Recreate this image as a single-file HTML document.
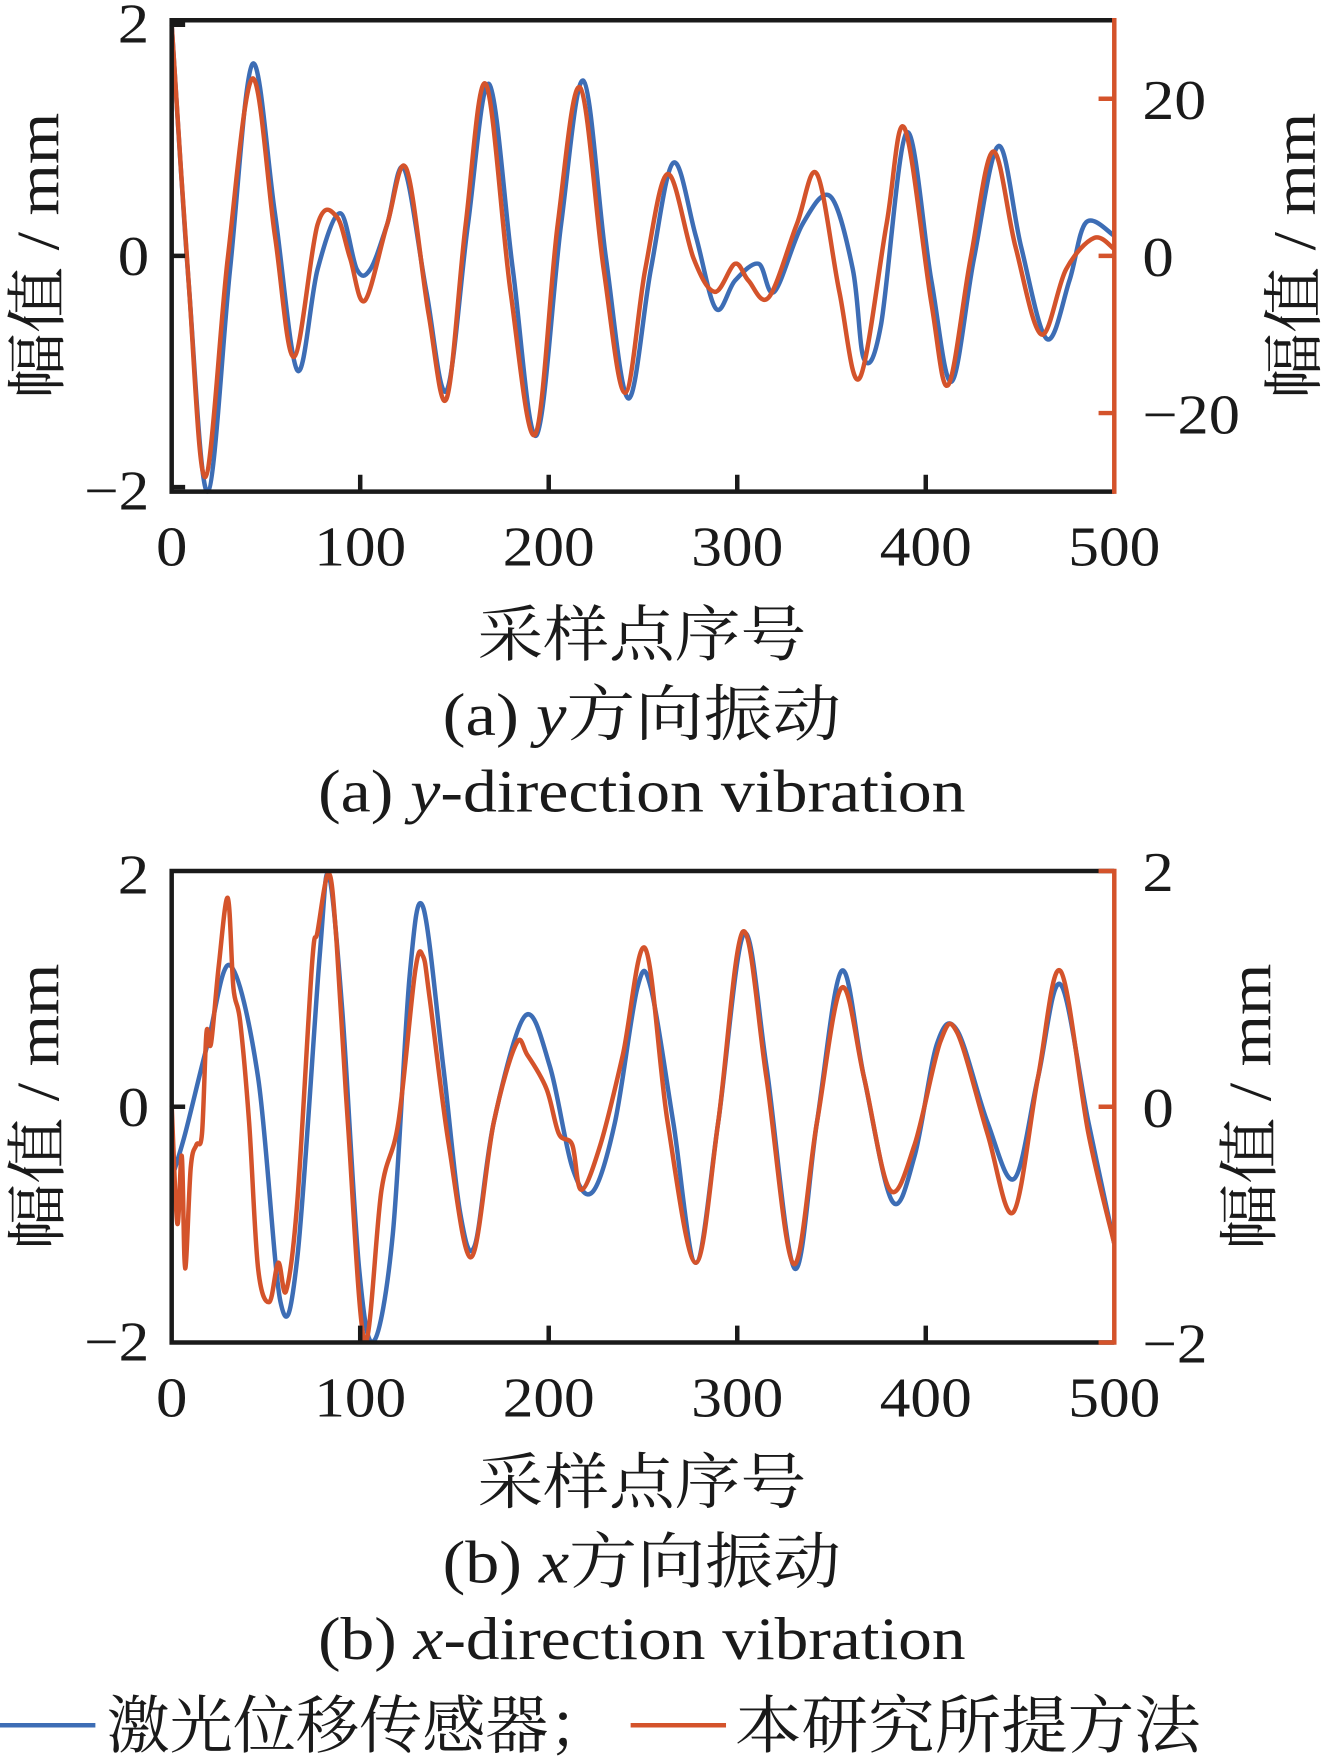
<!DOCTYPE html>
<html><head><meta charset="utf-8"><style>
html,body{margin:0;padding:0;background:#fff}
svg{display:block}
text{font-family:"Liberation Serif","Noto Serif CJK SC",serif;fill:#1a1a1a}
</style></head><body>
<svg id="s" width="1323" height="1760" viewBox="0 0 1179 1568" preserveAspectRatio="none" xmlns="http://www.w3.org/2000/svg">
<g id="curves"></g>
<g stroke="#1a1a1a" stroke-width="4" fill="none">
<path d="M153,16 V438 H993 M153,18 H993"/>
<path d="M153,22 h12 M153,228 h12 M153,434 h12"/>
<path d="M321,438 v-15 M489,438 v-15 M657,438 v-15 M825,438 v-15"/>
</g>
<g stroke="#d4532b" stroke-width="4" fill="none">
<path d="M993,16 V440 M993,88 h-14 M993,228 h-14 M993,368 h-14"/>
</g>
<g stroke="#1a1a1a" stroke-width="4" fill="none">
<path d="M153,774 V1196 H993 M153,776 H993"/>
<path d="M153,986 h12"/>
<path d="M321,1196 v-15 M489,1196 v-15 M657,1196 v-15 M825,1196 v-15"/>
</g>
<g stroke="#d4532b" stroke-width="4" fill="none">
<path d="M993,774 V1198 M993,776 h-14 M993,986 h-14 M993,1196 h-14"/>
</g>
<g font-size="50" text-anchor="end" lengthAdjust="spacingAndGlyphs">
<text x="133" y="38" textLength="28" lengthAdjust="spacingAndGlyphs">2</text>
<text x="133" y="245" textLength="28" lengthAdjust="spacingAndGlyphs">0</text>
<text x="133" y="454" textLength="58" lengthAdjust="spacingAndGlyphs">−2</text>
<text x="133" y="796" textLength="28" lengthAdjust="spacingAndGlyphs">2</text>
<text x="133" y="1003" textLength="28" lengthAdjust="spacingAndGlyphs">0</text>
<text x="133" y="1212" textLength="58" lengthAdjust="spacingAndGlyphs">−2</text>
</g>
<g font-size="50" text-anchor="start">
<text x="1018" y="106" fill="#d4532b" textLength="57" lengthAdjust="spacingAndGlyphs">20</text>
<text x="1018" y="246" fill="#d4532b" textLength="28" lengthAdjust="spacingAndGlyphs">0</text>
<text x="1018" y="386" fill="#d4532b" textLength="87" lengthAdjust="spacingAndGlyphs">−20</text>
<text x="1018" y="794" fill="#d4532b" textLength="28" lengthAdjust="spacingAndGlyphs">2</text>
<text x="1018" y="1004" fill="#d4532b" textLength="28" lengthAdjust="spacingAndGlyphs">0</text>
<text x="1018" y="1214" fill="#d4532b" textLength="58" lengthAdjust="spacingAndGlyphs">−2</text>
</g>
<g font-size="50" text-anchor="middle">
<text x="153" y="504" textLength="28" lengthAdjust="spacingAndGlyphs">0</text>
<text x="321" y="504" textLength="82" lengthAdjust="spacingAndGlyphs">100</text>
<text x="489" y="504" textLength="82" lengthAdjust="spacingAndGlyphs">200</text>
<text x="657" y="504" textLength="82" lengthAdjust="spacingAndGlyphs">300</text>
<text x="825" y="504" textLength="82" lengthAdjust="spacingAndGlyphs">400</text>
<text x="993" y="504" textLength="82" lengthAdjust="spacingAndGlyphs">500</text>
<text x="153" y="1262" textLength="28" lengthAdjust="spacingAndGlyphs">0</text>
<text x="321" y="1262" textLength="82" lengthAdjust="spacingAndGlyphs">100</text>
<text x="489" y="1262" textLength="82" lengthAdjust="spacingAndGlyphs">200</text>
<text x="657" y="1262" textLength="82" lengthAdjust="spacingAndGlyphs">300</text>
<text x="825" y="1262" textLength="82" lengthAdjust="spacingAndGlyphs">400</text>
<text x="993" y="1262" textLength="82" lengthAdjust="spacingAndGlyphs">500</text>
</g>
<g font-size="54" text-anchor="middle">
<text transform="translate(52,228) rotate(-90)" textLength="255" lengthAdjust="spacingAndGlyphs">幅值 / mm</text>
<text transform="translate(1172,228) rotate(-90)" textLength="255" lengthAdjust="spacingAndGlyphs">幅值 / mm</text>
<text transform="translate(52,986) rotate(-90)" textLength="255" lengthAdjust="spacingAndGlyphs">幅值 / mm</text>
<text transform="translate(1132,986) rotate(-90)" textLength="255" lengthAdjust="spacingAndGlyphs">幅值 / mm</text>
<text x="572" y="584" textLength="293" lengthAdjust="spacingAndGlyphs">采样点序号</text>
<text x="572" y="655" textLength="355" lengthAdjust="spacingAndGlyphs">(a)  <tspan font-style="italic">y</tspan>方向振动</text>
<text x="572" y="723" textLength="577" lengthAdjust="spacingAndGlyphs">(a)  <tspan font-style="italic">y</tspan>-direction vibration</text>
<text x="572" y="1339" textLength="293" lengthAdjust="spacingAndGlyphs">采样点序号</text>
<text x="572" y="1410" textLength="355" lengthAdjust="spacingAndGlyphs">(b)  <tspan font-style="italic">x</tspan>方向振动</text>
<text x="572" y="1478" textLength="577" lengthAdjust="spacingAndGlyphs">(b)  <tspan font-style="italic">x</tspan>-direction vibration</text>
</g>
<line x1="0" y1="1537" x2="85" y2="1537" stroke="#3d6db5" stroke-width="4"/>
<text x="95" y="1557" font-size="56" textLength="450" lengthAdjust="spacingAndGlyphs">激光位移传感器；</text>
<line x1="562" y1="1537" x2="647" y2="1537" stroke="#d4532b" stroke-width="4"/>
<text x="655" y="1557" font-size="56" textLength="415" lengthAdjust="spacingAndGlyphs">本研究所提方法</text>
</svg>
<script>
function cr(p){let d="M"+p[0][0]+","+p[0][1];for(let i=0;i<p.length-1;i++){const a=p[i-1]||p[i],b=p[i],c=p[i+1],e=p[i+2]||c;
d+=" C"+(b[0]+(c[0]-a[0])/6).toFixed(1)+","+(b[1]+(c[1]-a[1])/6).toFixed(1)+" "+(c[0]-(e[0]-b[0])/6).toFixed(1)+","+(c[1]-(e[1]-b[1])/6).toFixed(1)+" "+c[0]+","+c[1];}return d;}
const A_b=[[153,22],[168,250],[185,438],[205,240],[225,57],[245,190],[265,330],[283,240],[303,190],[318,240],[330,240],[345,200],[360,150],[380,260],[398,348],[417,200],[436,75],[457,240],[478,388],[500,200],[520,72],[540,230],[560,355],[580,240],[600,145],[620,210],[638,275],[655,250],[676,235],[690,260],[715,200],[740,175],[760,240],[770,320],[785,290],[808,118],[830,250],[848,340],[868,230],[890,130],[910,220],[933,302],[953,250],[968,198],[993,210]];
const A_r=[[153,22],[168,250],[183,425],[203,230],[225,70],[245,210],[262,318],[283,200],[300,193],[312,230],[325,268],[345,200],[362,150],[382,280],[398,355],[415,200],[433,75],[455,260],[477,387],[497,200],[517,78],[538,240],[557,350],[575,240],[595,155],[618,230],[637,260],[655,235],[667,250],[685,265],[710,200],[728,155],[748,260],[766,337],[790,200],[806,114],[830,270],[845,343],[865,230],[885,135],[905,220],[928,298],[950,240],[975,212],[993,222]];
const B_b=[[153,1050],[165,1010],[185,930],[205,860],[230,960],[250,1160],[265,1120],[285,850],[293,780],[305,900],[320,1130],[333,1195],[350,1100],[365,870],[377,808],[395,950],[410,1080],[423,1110],[440,1000],[468,905],[490,950],[510,1040],[528,1062],[548,1000],[568,880],[580,880],[600,1000],[620,1125],[640,1000],[663,832],[683,950],[708,1130],[728,1000],[750,865],[770,960],[795,1070],[815,1030],[835,930],[853,918],[880,1000],[904,1050],[925,960],[945,877],[970,1000],[993,1108]];
const B_r=[[153,985],[158,1090],[162,1030],[165,1130],[170,1040],[175,1020],[180,1010],[184,920],[188,930],[195,860],[203,800],[208,880],[214,910],[222,1000],[230,1130],[240,1160],[248,1125],[255,1150],[265,1070],[278,860],[283,830],[293,778],[300,840],[310,1000],[325,1195],[340,1060],[355,1000],[370,865],[377,852],[383,890],[400,1020],[420,1120],[440,1000],[460,930],[470,940],[487,970],[498,1010],[510,1020],[518,1060],[535,1020],[555,940],[575,845],[595,1000],[620,1125],[640,1000],[662,830],[683,960],[707,1126],[728,1000],[750,880],[770,960],[793,1060],[815,1020],[838,928],[853,920],[880,1010],[903,1080],[925,960],[945,865],[970,1010],[993,1108]];
const g=document.getElementById("curves");
[[A_b,"#3d6db5"],[A_r,"#d4532b"],[B_b,"#3d6db5"],[B_r,"#d4532b"]].forEach(([p,c])=>{
const e=document.createElementNS("http://www.w3.org/2000/svg","path");e.setAttribute("d",cr(p));e.setAttribute("fill","none");e.setAttribute("stroke",c);e.setAttribute("stroke-width","4");g.appendChild(e);});
</script>
</body></html>
